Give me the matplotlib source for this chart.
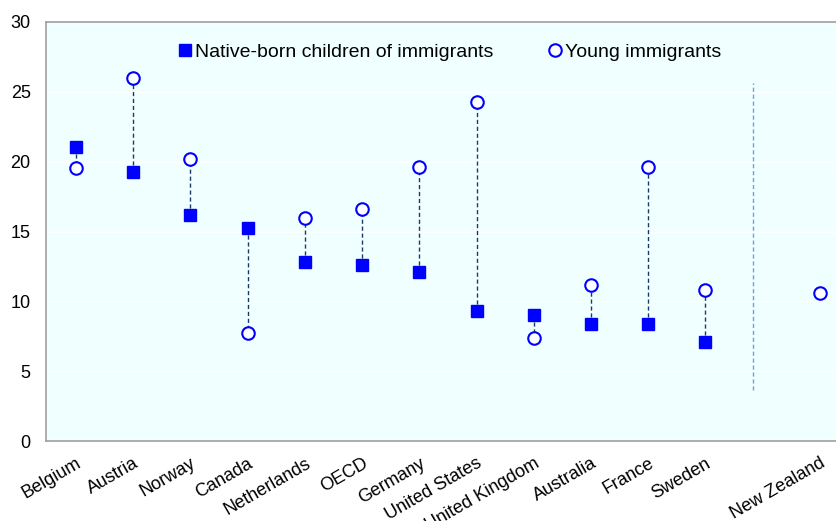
import matplotlib.pyplot as plt
import numpy as np

plt.rcParams['font.family'] = ['Liberation Sans', 'DejaVu Sans']

countries = ['Belgium', 'Austria', 'Norway', 'Canada', 'Netherlands', 'OECD', 'Germany',
             'United States', 'United Kingdom', 'Australia', 'France', 'Sweden', '', 'New Zealand']
native_born = [21.05, 19.25, 16.2, 15.25, 12.8, 12.6, 12.1, 9.3, 9.0, 8.4, 8.4, 7.1, np.nan, np.nan]
young_immigrants = [19.55, 26.0, 20.2, 7.73, 15.96, 16.6, 19.6, 24.3, 7.4, 11.2, 19.6, 10.8, np.nan, 10.6]

x = np.arange(len(countries))
native = np.array(native_born)
young = np.array(young_immigrants)

fig = plt.figure(figsize=(8.37, 5.21), dpi=100)
ax = fig.add_axes([46 / 837, 1 - 441 / 521, (837 - 46) / 837, (441 - 22) / 521])
ax.set_facecolor('#F0FFFF')

# connector lines between the two groups
for xi, a, b in zip(x, native, young):
    if not np.isnan(a) and not np.isnan(b):
        ax.plot([xi, xi], [a, b], color='#1F3864', lw=1.0, ls=(0, (3, 2)), zorder=2)

ax.plot(x, native, ls='none', marker='s', ms=9, color='#0000FF', mec='#0000FF',
        label='Native-born children of immigrants', zorder=3)
ax.plot(x, young, ls='none', marker='o', ms=9, mfc='white', mec='#0000FF', mew=1.5,
        label='Young immigrants', zorder=3)

# separator before New Zealand
ax.plot([11.84, 11.84], [3.65, 25.6], color='#6FA0DC', lw=1.0, ls=(0, (3, 2)), zorder=1)

ax.set_ylim(0, 30)
ax.set_xlim(-0.524, 13.3)
ax.set_yticks(range(0, 31, 5))
ax.yaxis.grid(True, color='white', lw=1.0)
ax.set_axisbelow(True)

ax.set_xticks(x)
ax.set_xticklabels(countries, rotation=30, ha='right', rotation_mode='anchor')
ax.tick_params(axis='both', length=0, labelsize=13)
ax.tick_params(axis='y', pad=11)
ax.tick_params(axis='x', pad=10)

for side in ['left', 'bottom', 'top']:
    ax.spines[side].set_color('#A0A0A0')
    ax.spines[side].set_linewidth(1.2)
ax.spines['right'].set_visible(False)

ax.legend(loc='upper center', bbox_to_anchor=(0.51, 0.99), ncol=2, frameon=False,
          fontsize=14, handletextpad=0.1, columnspacing=2.8, handlelength=0.8)

fig.savefig('out.png', dpi=100)
